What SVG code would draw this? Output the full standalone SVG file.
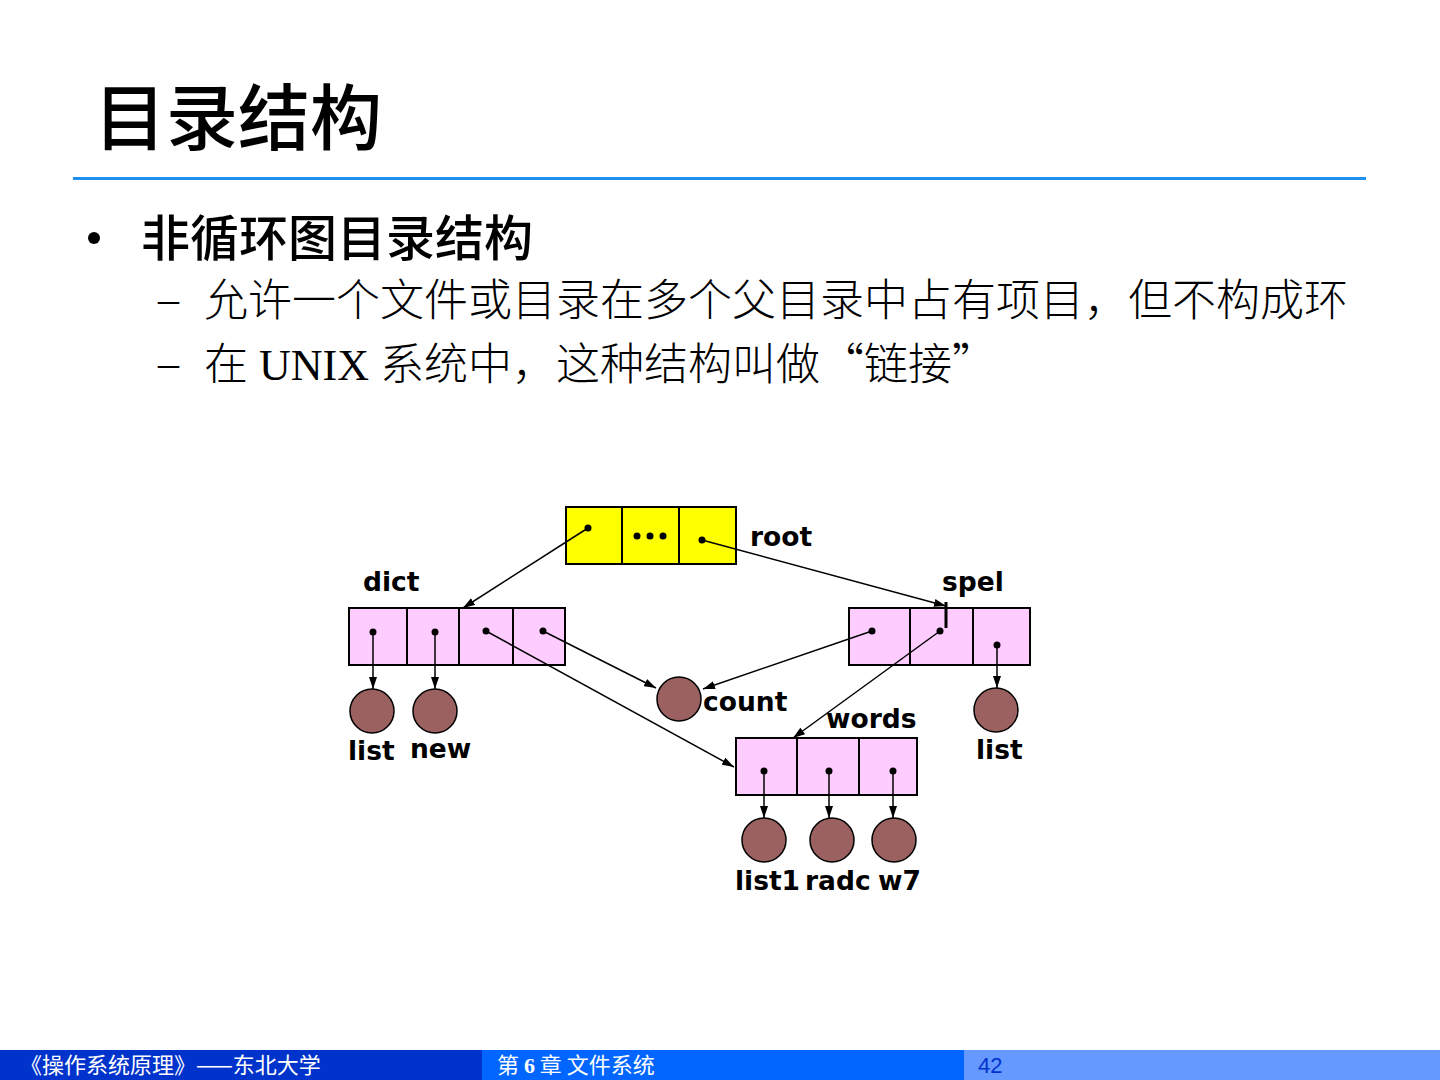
<svg xmlns="http://www.w3.org/2000/svg" width="1440" height="1080" viewBox="0 0 1440 1080">
<defs>
<marker id="ah" viewBox="0 0 12 8" refX="12" refY="4" markerWidth="12" markerHeight="8" markerUnits="userSpaceOnUse" orient="auto">
<path d="M0,0 L12,4 L0,8 z" fill="#000"/>
</marker>
<style>
.cjk{font-family:"Noto Sans CJK SC","Liberation Sans",sans-serif;fill:#000}
.ser{font-family:"Liberation Serif","Noto Sans CJK SC",serif;fill:#000;font-weight:300}
.q{font-family:"Noto Sans CJK SC",sans-serif}
.lbl{font-family:"DejaVu Sans","Liberation Sans",sans-serif;font-weight:bold;font-size:26.5px;fill:#000}
.cell{stroke:#000;stroke-width:2}
.pink{fill:#ffccff}
.yel{fill:#ffff00}
.ball{fill:#9b6060;stroke:#000;stroke-width:1.5}
.dot{fill:#000}
.con line{stroke:#000;stroke-width:1.5;marker-end:url(#ah)}
.foot{font-family:"Noto Sans CJK SC","Liberation Sans",sans-serif;font-size:22px;fill:#fff}
</style>
</defs>
<rect width="1440" height="1080" fill="#fff"/>
<g id="title">
<text x="94" y="144" class="cjk" font-size="72" font-weight="500">目录结构</text>
<line x1="73" y1="178.5" x2="1366" y2="178.5" stroke="#1e90f0" stroke-width="3"/>
</g>
<g id="bullets">
<circle cx="94" cy="238" r="6" fill="#000"/>
<text x="141" y="256" class="cjk" font-size="49" font-weight="500">非循环图目录结构</text>
<text x="158" y="313" class="ser" font-size="42">–</text>
<text x="204" y="316" class="ser" font-size="44">允许一个文件或目录在多个父目录中占有项目，但不构成环</text>
<text x="158" y="377" class="ser" font-size="42">–</text>
<text x="204" y="380" class="ser" font-size="44">在 UNIX 系统中，这种结构叫做<tspan class="q">“</tspan>链接<tspan class="q">”</tspan></text>
</g>
<g id="root">
<rect x="566" y="507" width="170" height="57" class="yel cell"/>
<line x1="622" y1="507" x2="622" y2="564" class="cell"/>
<line x1="679" y1="507" x2="679" y2="564" class="cell"/>
<circle cx="588" cy="528" r="3.5" class="dot"/>
<circle cx="637" cy="536" r="3.5" class="dot"/>
<circle cx="650" cy="536" r="3.5" class="dot"/>
<circle cx="663" cy="536" r="3.5" class="dot"/>
<circle cx="702" cy="540" r="3.5" class="dot"/>
<text x="750" y="546" class="lbl">root</text>
</g>
<g id="dict">
<rect x="349" y="608" width="216" height="57" class="pink cell"/>
<line x1="407" y1="608" x2="407" y2="665" class="cell"/>
<line x1="459" y1="608" x2="459" y2="665" class="cell"/>
<line x1="513" y1="608" x2="513" y2="665" class="cell"/>
<circle cx="373" cy="632" r="3.5" class="dot"/>
<circle cx="435" cy="632" r="3.5" class="dot"/>
<circle cx="486" cy="631" r="3.5" class="dot"/>
<circle cx="543" cy="631" r="3.5" class="dot"/>
<text x="363" y="591" class="lbl">dict</text>
</g>
<g id="spel">
<rect x="849" y="608" width="181" height="57" class="pink cell"/>
<line x1="910" y1="608" x2="910" y2="665" class="cell"/>
<line x1="973" y1="608" x2="973" y2="665" class="cell"/>
<circle cx="872" cy="631" r="3.5" class="dot"/>
<circle cx="940" cy="631" r="3.5" class="dot"/>
<circle cx="997" cy="645" r="3.5" class="dot"/>
<text x="942" y="591" class="lbl">spel</text>
</g>
<g id="words">
<rect x="736" y="738" width="181" height="57" class="pink cell"/>
<line x1="797" y1="738" x2="797" y2="795" class="cell"/>
<line x1="859" y1="738" x2="859" y2="795" class="cell"/>
<circle cx="764" cy="771" r="3.5" class="dot"/>
<circle cx="829" cy="771" r="3.5" class="dot"/>
<circle cx="893" cy="771" r="3.5" class="dot"/>
<text x="826" y="728" class="lbl">words</text>
</g>
<g id="list-a"><circle cx="372" cy="711" r="22" class="ball"/><text x="348" y="760" class="lbl">list</text></g>
<g id="new"><circle cx="435" cy="711" r="22" class="ball"/><text x="410" y="758" class="lbl">new</text></g>
<g id="count"><circle cx="679" cy="699" r="22" class="ball"/><text x="703" y="711" class="lbl">count</text></g>
<g id="list-b"><circle cx="996" cy="710" r="22" class="ball"/><text x="976" y="759" class="lbl">list</text></g>
<g id="list1"><circle cx="764" cy="840" r="22" class="ball"/><text x="735" y="890" class="lbl">list1</text></g>
<g id="radc"><circle cx="832" cy="840" r="22" class="ball"/><text x="805" y="890" class="lbl">radc</text></g>
<g id="w7"><circle cx="894" cy="840" r="22" class="ball"/><text x="878" y="890" class="lbl">w7</text></g>
<g id="connectors" class="con">
<line x1="588" y1="528" x2="463" y2="608"/>
<line x1="702" y1="540" x2="946" y2="606"/>
<line x1="373" y1="632" x2="373" y2="689"/>
<line x1="435" y1="632" x2="435" y2="689"/>
<line x1="486" y1="631" x2="734" y2="767"/>
<line x1="543" y1="631" x2="656" y2="688"/>
<line x1="872" y1="631" x2="703" y2="689"/>
<line x1="940" y1="631" x2="793" y2="738"/>
<line x1="997" y1="645" x2="997" y2="688"/>
<line x1="764" y1="771" x2="764" y2="818"/>
<line x1="829" y1="771" x2="829" y2="818"/>
<line x1="893" y1="771" x2="893" y2="818"/>
</g>
<line x1="946" y1="602" x2="946" y2="628" stroke="#000" stroke-width="3"/>
<g id="footer">
<rect x="0" y="1050" width="482" height="30" fill="#0033cc"/>
<rect x="482" y="1050" width="482" height="30" fill="#0066ff"/>
<rect x="964" y="1050" width="476" height="30" fill="#6699ff"/>
<text x="20" y="1073" class="foot">《操作系统原理》——东北大学</text>
<text x="497" y="1073" class="foot">第 <tspan font-family="Liberation Serif,serif" font-weight="bold">6</tspan> 章  文件系统</text>
<text x="978" y="1073" font-family="Liberation Sans,Arial,sans-serif" font-size="22" fill="#0033cc">42</text>
</g>
</svg>
